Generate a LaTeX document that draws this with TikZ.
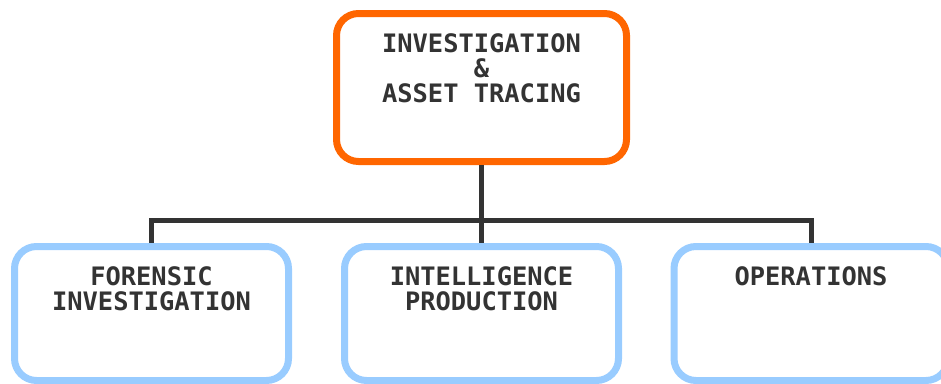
\documentclass[tikz,border=0pt]{standalone}
\usepackage{fontspec}
\setmonofont{DejaVu Sans Mono}
\definecolor{orng}{HTML}{FF6600}
\definecolor{lblue}{HTML}{99CCFF}
\definecolor{dgray}{HTML}{333333}
\tikzset{
  box/.style={draw, line width=7pt, rounded corners=22pt, fill=white, inner sep=0pt},
  topbox/.style={box, draw=orng, minimum width=290pt, minimum height=148pt},
  subbox/.style={box, draw=lblue, minimum width=274pt, minimum height=134pt},
  lbl/.style={anchor=base, inner sep=0pt, text=dgray, font=\ttfamily\bfseries\fontsize{25.4}{25}\selectfont},
  conn/.style={draw=dgray, line width=5pt}
}
\begin{document}
\begin{tikzpicture}[x=1pt,y=-1pt]
\useasboundingbox (0,0) rectangle (941,383);
\node[topbox] (top) at (481.5,87.5) {};
\node[subbox] (b1) at (151.5,313.5) {};
\node[subbox] (b2) at (481.5,313.5) {};
\node[subbox] (b3) at (811,313.5) {};
\coordinate (hub) at (481.5,220);
\draw[conn] (top.south) -- (hub);
\draw[conn] (hub) -| (b1.north);
\draw[conn] (hub) -| (b3.north);
\draw[conn] (hub) -- (b2.north);
\node[lbl] (t1) at (481.5,52) {INVESTIGATION};
\node[lbl] (t2) at (481.5,77) {\&};
\node[lbl] (t3) at (481.5,102) {ASSET TRACING};
\node[lbl] (f1) at (151.5,285) {FORENSIC};
\node[lbl] (f2) at (151.5,310) {INVESTIGATION};
\node[lbl] (i1) at (481.5,285) {INTELLIGENCE};
\node[lbl] (i2) at (481.5,310) {PRODUCTION};
\node[lbl] (o1) at (811,285) {OPERATIONS};
\end{tikzpicture}
\end{document}
